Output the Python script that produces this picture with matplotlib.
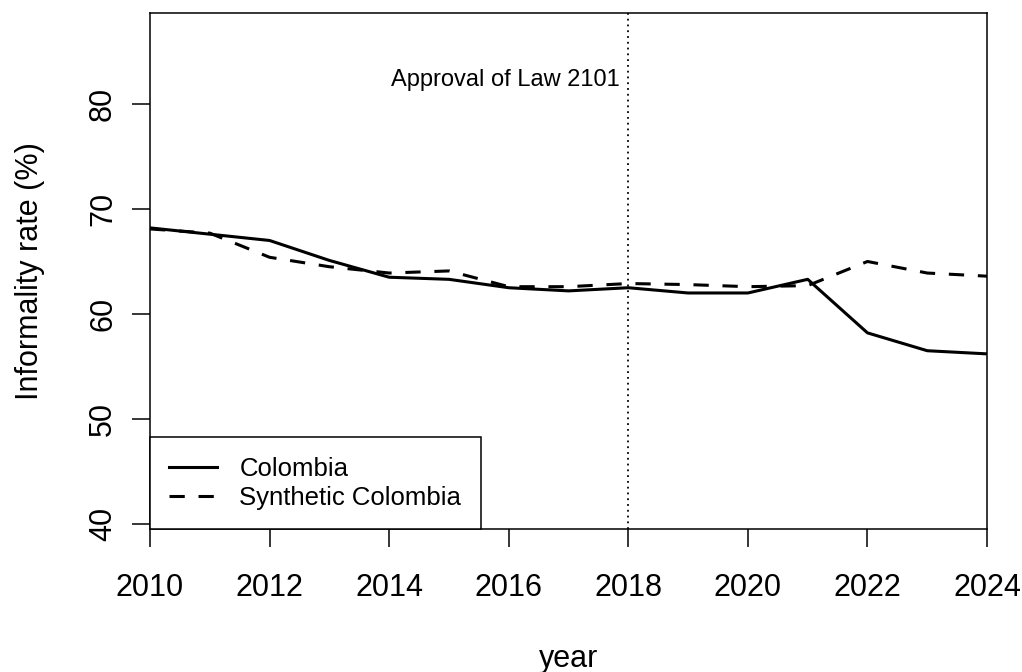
import matplotlib
matplotlib.use("Agg")
import matplotlib.pyplot as plt

plt.rcParams['font.family'] = ['Liberation Sans', 'DejaVu Sans']

years = list(range(2010, 2025))
colombia = [68.2, 67.6, 67.0, 65.1, 63.5, 63.3, 62.5, 62.2, 62.5, 62.0, 62.0, 63.3, 58.2, 56.5, 56.2]
synthetic = [68.1, 67.7, 65.4, 64.5, 63.9, 64.1, 62.6, 62.6, 62.9, 62.8, 62.6, 62.7, 65.0, 63.9, 63.6]
law_year = 2018
x_ticks = [2010, 2012, 2014, 2016, 2018, 2020, 2022, 2024]
y_ticks = [40, 50, 60, 70, 80]

fig = plt.figure(figsize=(10.22, 6.72), dpi=100)
ax = fig.add_axes([0.1468, 0.2128, 0.819, 0.7679])

ax.plot(years, colombia, color='black', lw=2.2, solid_joinstyle='round',
        label='Colombia')
ax.plot(years, synthetic, color='black', lw=2.2, linestyle=(0, (5, 4.5)),
        label='Synthetic Colombia')
ax.axvline(law_year, color='black', lw=1.3, linestyle=(0, (1, 2.2)))
ax.text(law_year - 0.15, 82.3, 'Approval of Law 2101', ha='right', va='center',
        fontsize=17)

ax.set_xlim(2010, 2024)
ax.set_ylim(39.52, 88.67)
ax.set_xticks(x_ticks)
ax.set_yticks(y_ticks)
ax.set_yticklabels([str(v) for v in y_ticks], rotation=90, va='center')
ax.tick_params(axis='both', labelsize=22, length=13, width=1.1, direction='out')
ax.tick_params(axis='x', pad=19)
ax.tick_params(axis='y', pad=10)
for s in ax.spines.values():
    s.set_linewidth(1.1)

ax.set_xlabel('year', fontsize=22, labelpad=29)
ax.set_ylabel('Informality rate (%)', fontsize=22, labelpad=31)

leg = ax.legend(loc='lower left', bbox_to_anchor=(0, 0), borderaxespad=0,
                fontsize=18.5, fancybox=False, edgecolor='black', framealpha=1,
                handlelength=1.87, handletextpad=0.86, borderpad=0.75,
                labelspacing=0.2)
leg.get_frame().set_linewidth(1.1)

fig.savefig('out.png', dpi=100, facecolor='white')
